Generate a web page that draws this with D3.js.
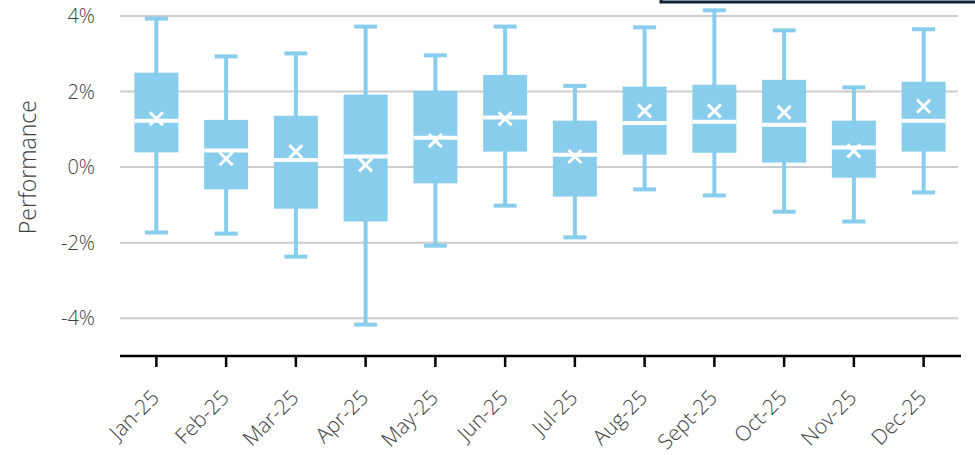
<!DOCTYPE html>
<html>
<head>
<meta charset="utf-8">
<script src="https://cdn.jsdelivr.net/npm/d3@7"></script>
<style>
  html, body { margin: 0; padding: 0; background: #fff; }
  svg { display: block; }
</style>
</head>
<body>
<svg id="chart" width="975" height="455"></svg>
<script>
const months = ["Jan-25","Feb-25","Mar-25","Apr-25","May-25","Jun-25","Jul-25","Aug-25","Sept-25","Oct-25","Nov-25","Dec-25"];
const whiskerHigh = [3.93, 2.93, 3.01, 3.72, 2.96, 3.72, 2.15, 3.70, 4.15, 3.62, 2.11, 3.65];
const q3          = [2.50, 1.25, 1.36, 1.92, 2.02, 2.44, 1.23, 2.13, 2.18, 2.31, 1.23, 2.26];
const median      = [1.23, 0.44, 0.19, 0.28, 0.78, 1.31, 0.33, 1.17, 1.20, 1.12, 0.52, 1.23];
const q1          = [0.39, -0.59, -1.10, -1.44, -0.43, 0.41, -0.78, 0.33, 0.38, 0.12, -0.28, 0.41];
const whiskerLow  = [-1.73, -1.76, -2.37, -4.17, -2.08, -1.02, -1.86, -0.59, -0.75, -1.18, -1.44, -0.67];
const mean        = [1.28, 0.22, 0.41, 0.06, 0.70, 1.28, 0.28, 1.49, 1.49, 1.45, 0.43, 1.61];
const yTicks = [-4, -2, 0, 2, 4];
const yTickLabels = ["-4%", "-2%", "0%", "2%", "4%"];
const yLabel = "Performance";

const svg = d3.select("#chart");
const boxColor = "#89CDED";
const textColor = "#404040";
const font = "'Open Sans', 'Noto Sans', sans-serif";

const x = d3.scaleBand().domain(months).range([121.5, 958.5]).paddingInner(0.37).paddingOuter(0.185);
const y = d3.scaleLinear().domain([-5, 4]).range([356, 16]);

const data = months.map((m, i) => ({
  m, hi: whiskerHigh[i], q3: q3[i], med: median[i], q1: q1[i], lo: whiskerLow[i], mean: mean[i]
}));

// legend box border (cropped at top)
svg.append("rect")
  .attr("x", 661).attr("y", -60).attr("width", 400).attr("height", 62)
  .attr("fill", "#fff").attr("stroke", "#0f2431").attr("stroke-width", 3);

// gridlines
svg.append("g").selectAll("line").data(yTicks).join("line")
  .attr("x1", 120).attr("x2", 958)
  .attr("y1", d => y(d)).attr("y2", d => y(d))
  .attr("stroke", "#cccccc").attr("stroke-width", 2);

// y tick labels
svg.append("g").selectAll("text").data(yTicks).join("text")
  .attr("x", 95).attr("y", d => y(d)).attr("dy", "0.36em")
  .attr("text-anchor", "end")
  .attr("font-family", font).attr("font-weight", 300).attr("font-size", 20)
  .attr("fill", textColor)
  .text((d, i) => yTickLabels[i]);

// y label
svg.append("text")
  .attr("transform", `translate(36, ${y(0)}) rotate(-90)`)
  .attr("text-anchor", "middle")
  .attr("font-family", font).attr("font-weight", 300).attr("font-size", 23)
  .attr("fill", textColor)
  .text(yLabel);

// boxes
const g = svg.append("g").selectAll("g").data(data).join("g");
const cx = d => x(d.m) + x.bandwidth() / 2;
const capW = 23;

g.append("line")
  .attr("x1", cx).attr("x2", cx)
  .attr("y1", d => y(d.hi)).attr("y2", d => y(d.lo))
  .attr("stroke", boxColor).attr("stroke-width", 4);
g.append("line")
  .attr("x1", d => cx(d) - capW / 2).attr("x2", d => cx(d) + capW / 2)
  .attr("y1", d => y(d.hi)).attr("y2", d => y(d.hi))
  .attr("stroke", boxColor).attr("stroke-width", 4);
g.append("line")
  .attr("x1", d => cx(d) - capW / 2).attr("x2", d => cx(d) + capW / 2)
  .attr("y1", d => y(d.lo)).attr("y2", d => y(d.lo))
  .attr("stroke", boxColor).attr("stroke-width", 4);
g.append("rect")
  .attr("x", d => x(d.m)).attr("width", x.bandwidth())
  .attr("y", d => y(d.q3)).attr("height", d => y(d.q1) - y(d.q3))
  .attr("fill", boxColor);
g.append("line")
  .attr("x1", d => x(d.m)).attr("x2", d => x(d.m) + x.bandwidth())
  .attr("y1", d => y(d.med)).attr("y2", d => y(d.med))
  .attr("stroke", "#fff").attr("stroke-width", 4);
const xs = 6.5;
g.append("path")
  .attr("d", d => {
    const px = cx(d), py = y(d.mean);
    return `M${px - xs},${py - xs}L${px + xs},${py + xs}M${px - xs},${py + xs}L${px + xs},${py - xs}`;
  })
  .attr("stroke", "#fff").attr("stroke-width", 3).attr("fill", "none");

// x axis
const xAxis = svg.append("g").attr("transform", "translate(0,356)")
  .call(d3.axisBottom(x).tickSize(11).tickSizeOuter(0));
xAxis.select(".domain").attr("d", "M120,0H961").attr("stroke", "#000").attr("stroke-width", 2.5);
xAxis.selectAll(".tick line").attr("stroke", "#000").attr("stroke-width", 2.5);
xAxis.selectAll(".tick text")
  .attr("font-family", font).attr("font-weight", 300).attr("font-size", 21)
  .attr("fill", textColor)
  .attr("text-anchor", "end")
  .attr("dy", 0).attr("y", 0)
  .attr("transform", "translate(4,43) rotate(-45)");
</script>
</body>
</html>
